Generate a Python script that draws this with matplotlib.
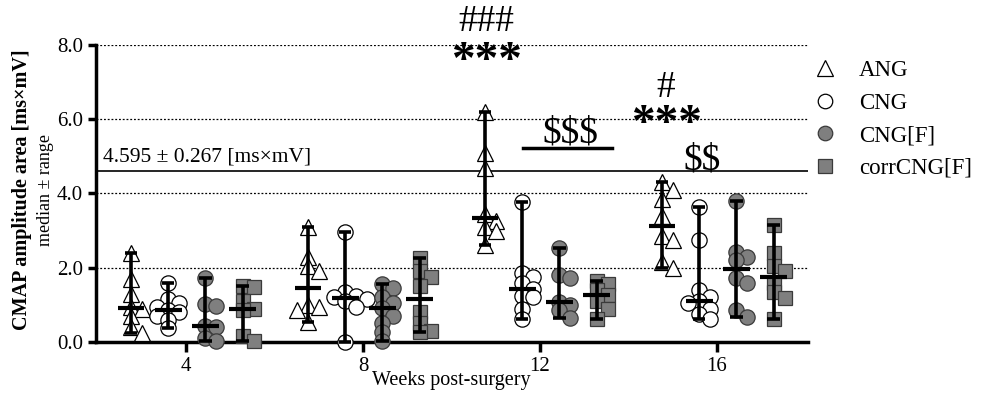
import numpy as np
import matplotlib
matplotlib.use("Agg")
import matplotlib.pyplot as plt
from matplotlib.lines import Line2D

plt.rcParams['font.family'] = ['Liberation Serif', 'DejaVu Serif']
plt.rcParams['text.parse_math'] = False

weeks = ["4", "8", "12", "16"]
groups = ["ANG", "CNG", "CNG[F]", "corrCNG[F]"]

ANG = [
    [2.4, 1.7, 1.3, 0.95, 0.9, 0.7, 0.4, 0.25],
    [3.1, 2.3, 2.05, 1.9, 1.0, 0.95, 0.85, 0.55],
    [6.2, 5.1, 4.7, 3.45, 3.25, 3.1, 3.0, 2.6],
    [4.3, 4.1, 3.85, 3.4, 2.85, 2.75, 2.15, 1.98],
]
CNG = [
    [1.58, 1.15, 1.05, 0.95, 0.86, 0.8, 0.7, 0.6, 0.38],
    [2.95, 1.35, 1.25, 1.2, 1.15, 1.1, 0.95, 0.0],
    [3.77, 1.85, 1.75, 1.6, 1.42, 1.25, 1.2, 0.9, 0.61],
    [3.63, 2.75, 1.4, 1.2, 1.11, 1.05, 0.9, 0.75, 0.61],
]
CNGF = [
    [1.72, 1.02, 0.98, 0.43, 0.4, 0.1, 0.03],
    [1.55, 1.45, 1.2, 1.05, 0.91, 0.7, 0.5, 0.28, 0.03],
    [2.52, 1.8, 1.72, 1.09, 1.0, 0.85, 0.64],
    [3.8, 2.43, 2.3, 2.2, 1.72, 1.58, 0.86, 0.66],
]
corrCNGF = [
    [1.52, 1.48, 1.1, 0.9, 0.85, 0.15, 0.02],
    [2.25, 1.9, 1.75, 1.5, 0.8, 0.5, 0.3, 0.28],
    [1.63, 1.55, 1.4, 1.27, 1.1, 0.9, 0.61],
    [3.15, 2.4, 2.05, 1.9, 1.6, 1.36, 1.18, 0.61],
]
baseline_mean = 4.595
baseline_sd = 0.267

series = [ANG, CNG, CNGF, corrCNGF]
offsets = [-0.31, -0.10, 0.11, 0.32]
styles = [
    dict(marker='^', mfc='white', mec='black', ms=11.5, mew=0.9),
    dict(marker='o', mfc='white', mec='black', ms=11, mew=0.9),
    dict(marker='o', mfc='#7f7f7f', mec='#3a3a3a', ms=11, mew=0.9),
    dict(marker='s', mfc='#7f7f7f', mec='#3a3a3a', ms=10.5, mew=0.9),
]

fig = plt.figure(figsize=(9.88, 3.95), dpi=100)
ax = fig.add_axes([0.0972, 0.1342, 0.7206, 0.7519])
xmin, xmax = -0.508, 3.514
ymin, ymax = 0.0, 8.0
ax.set_xlim(xmin, xmax)
ax.set_ylim(ymin, ymax)

# pixel scales for simple swarm spreading
bbox = ax.get_position()
pxx = bbox.width * 988 / (xmax - xmin)
pxy = bbox.height * 395 / (ymax - ymin)
step_px = 11.0
min_dist = 8.0


def swarm(vals):
    placed = []
    res = []
    for v in vals:
        y = v * pxy
        x = 0.0
        for k in [0, 1, -1, 2, -2]:
            x = k * step_px
            if all((x - px) ** 2 + (y - py) ** 2 >= min_dist ** 2 for px, py in placed):
                break
        placed.append((x, y))
        res.append(x / pxx)
    return np.array(res)


for gi, (data, off, st) in enumerate(zip(series, offsets, styles)):
    for wi, vals in enumerate(data):
        vals = np.array(vals)
        xc = wi + off
        dx = swarm(vals)
        ax.plot(xc + dx, vals, ls='none', clip_on=False, zorder=3, **st)
        med = np.median(vals)
        lo, hi = vals.min(), vals.max()
        ax.vlines(xc, lo, hi, color='black', lw=2.6, zorder=4, clip_on=False)
        ax.hlines([lo, hi], xc - 0.035, xc + 0.035, color='black', lw=2.6, zorder=4, clip_on=False)
        ax.hlines(med, xc - 0.075, xc + 0.075, color='black', lw=3.0, zorder=4, clip_on=False)

# baseline
ax.axhline(baseline_mean, color='black', lw=1.2, zorder=2)
ax.text(-0.47, baseline_mean + 0.12, f"{baseline_mean:.3f} \u00b1 {baseline_sd:.3f} [ms\u00d7mV]",
        fontsize=15.5, ha='left', va='bottom')

# grid
for yv in [2, 4, 6, 8]:
    ax.axhline(yv, color='black', lw=0.9, ls=(0, (1.5, 1.5)), zorder=1)

# spines / ticks
for s in ['top', 'right']:
    ax.spines[s].set_visible(False)
for s in ['left', 'bottom']:
    ax.spines[s].set_linewidth(2.5)
ax.set_xticks(range(len(weeks)))
ax.set_xticklabels(weeks)
ax.set_yticks([0, 2, 4, 6, 8])
ax.set_yticklabels([f"{v:.1f}" for v in [0, 2, 4, 6, 8]])
ax.tick_params(axis='both', direction='out', width=2.5, length=6, labelsize=15)
ax.tick_params(axis='x', length=7, pad=4)

fig.text(0.022, 0.52, "CMAP amplitude area [ms\u00d7mV]", rotation=90, fontsize=14.5,
         fontweight='bold', ha='center', va='center')
fig.text(0.046, 0.52, "median \u00b1 range", rotation=90, fontsize=13, ha='center', va='center')
fig.text(0.457, 0.036, "Weeks post-surgery", fontsize=14.5, ha='center', va='center')

# annotations
ax.text(1.695, 8.62, "###", fontsize=27, ha='center', va='center', clip_on=False)
ax.text(1.695, 7.55, "***", fontsize=34, fontweight='bold', ha='center', va='center', clip_on=False)
ax.text(2.17, 5.63, "$$$", fontsize=27, ha='center', va='center')
ax.plot([1.905, 2.407], [5.23, 5.23], color='black', lw=2.5)
ax.text(2.712, 6.85, "#", fontsize=27, ha='center', va='center')
ax.text(2.712, 5.85, "***", fontsize=34, fontweight='bold', ha='center', va='center')
ax.text(2.916, 4.9, "$$", fontsize=27, ha='center', va='center')

# legend
handles = [Line2D([], [], ls='none', marker=st['marker'], mfc=st['mfc'], mec=st['mec'],
                  ms=st['ms'] * 0.95, mew=st['mew']) for st in styles]
fig.legend(handles, groups, loc='upper left', bbox_to_anchor=(0.8, 0.90), frameon=False,
           fontsize=16.5, handletextpad=0.9, labelspacing=0.5, handlelength=1.2)

fig.savefig("out.png", dpi=100)
